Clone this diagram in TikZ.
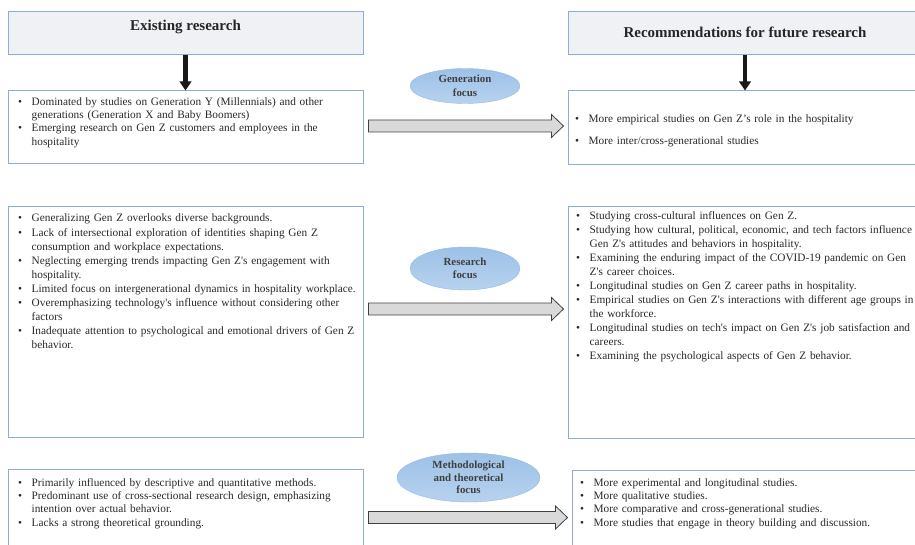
\documentclass[tikz,border=0pt]{standalone}
\usepackage{fontspec}
\setmainfont{Liberation Serif}
\usetikzlibrary{shapes.geometric,arrows.meta,calc}

\definecolor{boxline}{RGB}{143,170,220}
\definecolor{headfill}{RGB}{240,241,244}
\definecolor{arrowfill}{RGB}{217,217,217}
\definecolor{arrowline}{RGB}{64,64,64}
\definecolor{ovaltop}{RGB}{157,193,231}
\definecolor{ovalbottom}{RGB}{184,210,239}
\definecolor{ovalline}{RGB}{150,186,226}
\definecolor{bodytext}{RGB}{40,40,40}

\newlength{\gzhang}
\setlength{\gzhang}{13.5pt}
\newcommand{\gzitem}[1]{\par\noindent\hangindent=\gzhang\hangafter=1\makebox[\gzhang][l]{\textbullet}#1\par}
\newcommand{\gzq}{\textquotesingle}

\tikzset{
  headbox/.style={draw=boxline, fill=headfill, line width=1pt, minimum width=355, minimum height=43, inner sep=0},
  headtext/.style={inner sep=0, text=black!85, font=\fontsize{15}{18}\selectfont\bfseries},
  listbox/.style={draw=boxline, line width=1pt, minimum width=355, inner sep=0},
  listtext/.style={anchor=north west, inner sep=0, text width=350pt, text=bodytext,
    execute at begin node=\raggedright, font=\fontsize{11.3}{13.3}\selectfont},
  focus/.style={ellipse, draw=ovalline, top color=ovaltop, bottom color=ovalbottom, minimum width=110, minimum height=35, inner sep=0, align=center, text=black!75, font=\fontsize{10.9}{13.5}\selectfont\bfseries},
  downarrow/.style={draw=black!90, line width=4.5pt, -{Triangle[width=11.5pt,length=9pt]}},
  blockarrow/.style={draw=arrowline, fill=arrowfill, line width=0.8pt,
    to path={let \p1=(\tikztostart), \p2=(\tikztotarget) in
      (\x1+5pt,\y1+6pt) -- (\x2-16pt,\y1+6pt) -- (\x2-16pt,\y1+11.5pt) -- (\x2-4pt,\y1)
      -- (\x2-16pt,\y1-11.5pt) -- (\x2-16pt,\y1-6pt) -- (\x1+5pt,\y1-6pt) -- cycle}}
}

\begin{document}
\begin{tikzpicture}[x=1pt,y=1pt,yscale=-1]
\useasboundingbox (0,0) rectangle (915,545);
\clip (0,0) rectangle (915,545);

% Headers
\node[headbox] (exhead) at (185.5,33.5) {};
\node[headtext] (exlabel) at (185.5,27) {Existing research};
\node[headbox, minimum width=354] (rchead) at (745,33.5) {};
\node[headtext] (rclabel) at (745,32) {Recommendations for future research};

% Generation focus
\node[listbox, minimum height=73] (exgen) at (185.5,127.5) {};
\node[listbox, minimum width=354, minimum height=74] (rcgen) at (745,128) {};
\node[listtext] (exgentxt) at ($(exgen.north west)+(10.5,1.2)$) {%
  \gzitem{Dominated by studies on Generation Y (Millennials) and other\newline generations (Generation X and Baby Boomers)}
  \gzitem{Emerging research on Gen Z customers and employees in the\newline hospitality}};
\node[listtext] (rcgentxt) at ($(rcgen.north west)+(7.5,18.5)$) {%
  \gzitem{More empirical studies on Gen Z’s role in the hospitality}
  \vspace{8.4pt}
  \gzitem{More inter/cross-generational studies}};
\node[focus] (genfocus) at (465,86) {Generation\\focus};

% Research focus
\node[listbox, minimum height=230] (exres) at (185.5,322) {};
\node[listbox, minimum width=354, minimum height=231] (rcres) at (745,322.5) {};
\node[listtext, font=\fontsize{11.3}{14.1}\selectfont] (exrestxt) at ($(exres.north west)+(10.5,1.2)$) {%
  \gzitem{Generalizing Gen Z overlooks diverse backgrounds.}
  \gzitem{Lack of intersectional exploration of identities shaping Gen Z\newline consumption and workplace expectations.}
  \gzitem{Neglecting emerging trends impacting Gen Z\gzq s engagement with\newline hospitality.}
  \gzitem{Limited focus on intergenerational dynamics in hospitality workplace.}
  \gzitem{Overemphasizing technology\gzq s influence without considering other\newline factors}
  \gzitem{Inadequate attention to psychological and emotional drivers of Gen Z\newline behavior.}};
\node[listtext, font=\fontsize{11.3}{14}\selectfont] (rcrestxt) at ($(rcres.north west)+(8.5,-0.8)$) {%
  \gzitem{Studying cross-cultural influences on Gen Z.}
  \gzitem{Studying how cultural, political, economic, and tech factors influence\newline Gen Z\gzq s attitudes and behaviors in hospitality.}
  \gzitem{Examining the enduring impact of the COVID-19 pandemic on Gen\newline Z\gzq s career choices.}
  \gzitem{Longitudinal studies on Gen Z career paths in hospitality.}
  \gzitem{Empirical studies on Gen Z\gzq s interactions with different age groups in\newline the workforce.}
  \gzitem{Longitudinal studies on tech\gzq s impact on Gen Z\gzq s job satisfaction and\newline careers.}
  \gzitem{Examining the psychological aspects of Gen Z behavior.}};
\node[focus, minimum height=43] (resfocus) at (465,268.5) {Research\\focus};

% Methodological and theoretical focus
\node[listbox, minimum height=100] (exmet) at (185.5,519) {};
\node[listbox, minimum width=354, minimum height=100] (rcmet) at (749,520) {};
\node[listtext] (exmettxt) at ($(exmet.north west)+(10.5,4.2)$) {%
  \gzitem{Primarily influenced by descriptive and quantitative methods.}
  \gzitem{Predominant use of cross-sectional research design, emphasizing\newline intention over actual behavior.}
  \gzitem{Lacks a strong theoretical grounding.}};
\node[listtext] (rcmettxt) at ($(rcmet.north west)+(8.5,3.2)$) {%
  \gzitem{More experimental and longitudinal studies.}
  \gzitem{More qualitative studies.}
  \gzitem{More comparative and cross-generational studies.}
  \gzitem{More studies that engage in theory building and discussion.}};
\node[focus, minimum width=143, minimum height=49, font=\fontsize{10.9}{12.5}\selectfont\bfseries] (metfocus) at (468.5,477.5) {Methodological\\and theoretical\\focus};

% Arrows
\draw[downarrow] (exhead) -- (exgen);
\draw[downarrow] (rchead) -- (rcgen);
\draw[blockarrow] (exgen.east |- 0,126) to (rcgen.west |- 0,126);
\draw[blockarrow] (exres.east |- 0,309) to (rcres.west |- 0,309);
\draw[blockarrow] (exmet.east |- 0,517.5) to (rcmet.west |- 0,517.5);

\end{tikzpicture}
\end{document}
